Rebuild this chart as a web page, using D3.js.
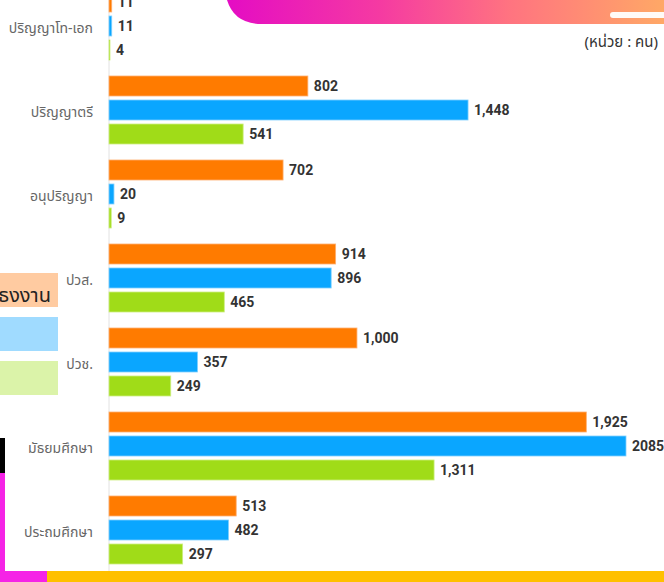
<!DOCTYPE html>
<html>
<head>
<meta charset="utf-8">
<script src="https://cdn.jsdelivr.net/npm/d3@7"></script>
<style>
  body { margin: 0; background: #fff; }
  svg { display: block; }
</style>
</head>
<body>
<script>
// education levels, top to bottom
let levels = ["ปริญญาโท-เอก", "ปริญญาตรี", "อนุปริญญา", "ปวส.", "ปวช.", "มัธยมศึกษา", "ประถมศึกษา"];
let seriesKeys = ["orange", "blue", "green"];
let orangeValues = [11, 802, 702, 914, 1000, 1925, 513];
let blueValues = [11, 1448, 20, 896, 357, 2085, 482];
let greenValues = [4, 541, 9, 465, 249, 1311, 297];
// the picture prints this one without a comma
let noCommaLabels = ["2085"];
let unitLabel = "(หน่วย : คน)";
let legendText = "ธงงาน";

let colors = {orange: "#ff7b00", blue: "#0aa6ff", green: "#a0dc18"};
let edge = {orange: "#ffb070", blue: "#7fd0ff", green: "#cdee80"};

let width = 664, height = 582;
let svg = d3.select("body").append("svg").attr("width", width).attr("height", height);

let defs = svg.append("defs");
let grad = defs.append("linearGradient").attr("id", "topgrad");
[["0%", "#e40cc4"], ["35%", "#f53aa2"], ["65%", "#ff7480"], ["100%", "#ffa866"]]
    .forEach(s => grad.append("stop").attr("offset", s[0]).attr("stop-color", s[1]));

// top decoration
svg.append("path")
    .attr("d", "M226,-10 L664,-10 L664,24 L262,24 Q232,24 226,-4 Z")
    .attr("fill", "url(#topgrad)");
svg.append("rect").attr("x", 610).attr("y", 12).attr("width", 70).attr("height", 6)
    .attr("rx", 3).attr("fill", "#fff").attr("opacity", 0.95);
svg.append("text").attr("x", 658).attr("y", 47).attr("text-anchor", "end")
    .attr("font-family", "'Noto Sans Thai', 'Noto Sans', sans-serif").attr("font-size", 15)
    .attr("fill", "#333").text(unitLabel);

// left side decoration
svg.append("rect").attr("x", 0).attr("y", 438).attr("width", 5).attr("height", 35).attr("fill", "#000");
svg.append("rect").attr("x", 0).attr("y", 473).attr("width", 5).attr("height", 110).attr("fill", "#f523e6");
svg.append("rect").attr("x", 0).attr("y", 571).attr("width", 47).attr("height", 11).attr("fill", "#f523e6");
svg.append("rect").attr("x", 47).attr("y", 571).attr("width", 617).attr("height", 11).attr("fill", "#ffc000");

let legendBoxes = [["#ffcba1", 273], ["#a0dbff", 317], ["#dbf3a9", 361]];
svg.append("g").selectAll("rect").data(legendBoxes).join("rect")
    .attr("x", 0).attr("y", d => d[1]).attr("width", 58).attr("height", 34).attr("fill", d => d[0]);
svg.append("text").attr("x", 51).attr("y", 296).attr("text-anchor", "end").attr("dominant-baseline", "middle")
    .attr("font-family", "'Noto Sans Thai', 'Noto Sans', sans-serif").attr("font-size", 20)
    .attr("fill", "#222").text(legendText);

// scales
let x = d3.scaleLinear().domain([0, 2085]).range([109, 626]);
let y = d3.scaleBand().domain(levels).range([-16, 572]);
let yInner = d3.scaleBand().domain(seriesKeys).range([8, 76]).paddingInner(1 / 6);

svg.append("line").attr("x1", 109).attr("x2", 109).attr("y1", 0).attr("y2", 571)
    .attr("stroke", "#e2e2e2").attr("stroke-width", 1);

let rows = levels.map((lv, i) => ({
    level: lv,
    bars: [
        {key: "orange", value: orangeValues[i]},
        {key: "blue", value: blueValues[i]},
        {key: "green", value: greenValues[i]}
    ]
}));

let fmt = d3.format(",");
let label = v => noCommaLabels.includes(String(v)) ? String(v) : fmt(v);

let group = svg.append("g").selectAll("g").data(rows).join("g")
    .attr("transform", d => `translate(0,${y(d.level)})`);

group.selectAll("rect").data(d => d.bars).join("rect")
    .attr("x", x(0))
    .attr("y", d => yInner(d.key))
    .attr("width", d => Math.max(1, x(d.value) - x(0)))
    .attr("height", yInner.bandwidth())
    .attr("fill", d => colors[d.key])
    .attr("stroke", d => edge[d.key])
    .attr("stroke-width", 0.8);

group.selectAll("text.val").data(d => d.bars).join("text")
    .attr("class", "val")
    .attr("x", d => Math.max(x(d.value), x(0) + 1) + 6)
    .attr("y", d => yInner(d.key) + yInner.bandwidth() / 2)
    .attr("dominant-baseline", "central")
    .attr("font-family", "Roboto, 'DejaVu Sans', sans-serif")
    .attr("font-weight", "bold")
    .attr("font-size", 14)
    .attr("fill", "#333")
    .text(d => label(d.value));

group.append("text")
    .attr("x", 93)
    .attr("y", yInner("blue") + yInner.bandwidth() / 2 + 2)
    .attr("text-anchor", "end")
    .attr("dominant-baseline", "central")
    .attr("font-family", "'Noto Sans Thai', 'Noto Sans', sans-serif")
    .attr("font-size", 14)
    .attr("fill", "#666")
    .text(d => d.level);
</script>
</body>
</html>
